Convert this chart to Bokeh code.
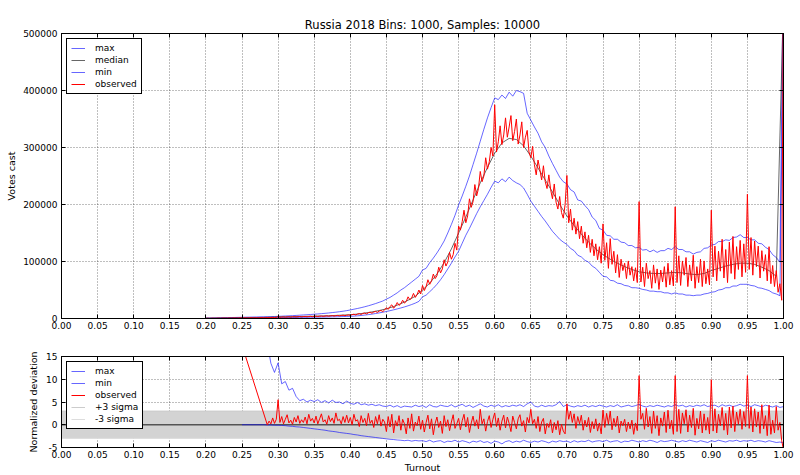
import numpy as np
from bokeh.plotting import figure
from bokeh.layouts import column
from bokeh.models import (Range1d, FixedTicker, NumeralTickFormatter, LinearAxis,
                          Legend, LegendItem, CustomLabelingPolicy, CustomJSTickFormatter)
from bokeh.embed import file_html
from bokeh.resources import INLINE

FONT = "DejaVu Sans"

# ---------------- data (top panel, votes in thousands) ----------------
# observed, one value every 0.0025 of turnout starting at 0.20
observed_k = [
    0.3, 0.5, 0.2, 0.4, 0.6, 0.3, 0.5, 0.7, 0.4, 0.6,
    0.8, 0.5, 0.7, 0.9, 0.6, 0.8, 1.0, 0.7, 0.9, 1.1,
    0.8, 1.0, 1.2, 0.9, 1.1, 1.3, 1.0, 1.2, 1.4, 1.1,
    1.3, 1.6, 1.2, 1.5, 1.8, 1.4, 1.7, 2.0, 1.6, 1.9,
    3.5, 2.1, 2.5, 2.8, 2.2, 2.7, 3.0, 2.4, 2.9, 3.2,
    2.6, 3.1, 3.4, 2.8, 3.3, 3.6, 3.0, 3.5, 3.9, 3.2,
    3.7, 4.1, 3.4, 4.0, 4.4, 3.7, 4.3, 4.7, 4.0, 4.6,
    5.0, 4.3, 4.9, 5.4, 4.6, 5.3, 5.8, 5.0, 5.7, 6.2,
    5.5, 6.8, 7.5, 6.2, 7.8, 8.5, 7.0, 8.9, 9.6, 8.0,
    10.1, 11.0, 9.2, 11.5, 12.4, 10.6, 13.0, 14.2, 12.0, 15.0,
    19, 16, 21, 24, 18, 22, 28, 23, 26, 32,
    27, 30, 38, 33, 36, 44, 37, 42, 50, 43,
    58, 49, 56, 68, 60, 66, 78, 70, 75, 90,
    80, 87, 103, 92, 99, 116, 104, 112, 132, 120,
    162, 155, 170, 190, 168, 180, 210, 195, 205, 235,
    215, 228, 258, 240, 250, 282, 262, 275, 300, 285,
    375, 292, 310, 338, 305, 322, 352, 318, 336, 356,
    312, 328, 350, 306, 322, 345, 300, 318, 330, 292,
    282, 302, 270, 252, 278, 262, 243, 268, 240, 228,
    252, 226, 210, 236, 204, 192, 214, 186, 176, 200,
    251, 168, 192, 155, 176, 148, 170, 140, 162, 132,
    152, 124, 146, 116, 139, 110, 131, 103, 126, 97,
    166, 102, 133, 88, 140, 95, 118, 80, 112, 72,
    104, 84, 97, 70, 101, 76, 91, 66, 89, 63,
    205, 64, 90, 56, 97, 70, 84, 53, 94, 62,
    87, 51, 85, 64, 91, 55, 97, 59, 84, 57,
    196, 63, 110, 58, 101, 76, 107, 56, 94, 66,
    111, 53, 91, 63, 104, 56, 101, 61, 87, 59,
    190, 73, 127, 66, 118, 83, 139, 71, 121, 63,
    134, 79, 144, 69, 126, 86, 137, 73, 131, 81,
    218, 86, 142, 76, 136, 91, 127, 71, 119, 83,
    112, 66, 126, 61, 93, 56, 84, 46, 61, 32,
    620,
]

# median, one value every 0.01 starting at 0.20
median_k = [
    0.5, 0.6, 0.8, 0.9, 1.1, 1.3, 1.5, 1.7, 1.9, 2.2,
    2.6, 2.9, 3.2, 3.5, 3.8, 4.1, 4.5, 4.9, 5.4, 6.0,
    6.5, 7.8, 9.5, 11.5, 14, 17, 21, 26, 32, 39,
    50, 62, 78, 98, 122, 150, 178, 208, 238, 265,
    290, 308, 316, 314, 303, 285, 264, 243, 222, 200,
    180, 163, 148, 134, 122, 112, 104, 97, 91, 86,
    82, 80, 79, 79, 80, 81, 80, 78, 77, 79,
    84, 88, 92, 95, 97, 97, 95, 90, 84, 74,
    560,
]

# max and min, one value every 0.005 starting at 0.20
max_k = [
    0.8, 0.9, 1.0, 1.1, 1.3, 1.4, 1.5, 1.7, 1.8, 2.0, 2.1, 2.3, 2.4, 2.6, 2.7, 2.9, 3.0, 3.2, 3.3, 3.5,
    3.8, 4.1, 4.4, 4.7, 5.0, 5.4, 5.8, 6.2, 6.6, 7.0, 7.5, 8.0, 8.5, 9.1, 9.7, 10.4, 11.1, 11.9, 12.8, 13.8,
    15, 16.3, 17.6, 19, 20.6, 22.3, 24.2, 26.2, 28.4, 30.7, 34, 37, 41, 45, 50, 54, 59, 64, 69, 74,
    85, 88, 98, 106, 115, 125, 136, 150, 165, 181, 199, 215, 232, 250, 270, 290, 311, 332, 352, 370,
    387, 384, 392, 386, 397, 390, 400, 398, 395, 360, 348, 336, 325, 310, 300, 285, 272, 260, 248, 240,
    236, 226, 222, 208, 206, 198, 191, 178, 172, 158, 155, 146, 145, 139, 139, 134, 133, 128, 128, 124,
    125, 120, 121, 117, 120, 116, 119, 119, 123, 121, 126, 121, 121, 117, 117, 113, 116, 117, 123, 124,
    129, 130, 135, 135, 138, 137, 142, 143, 147, 142, 142, 138, 138, 132, 131, 125, 121, 112, 107, 99,
    650,
]
min_k = [
    0.1, 0.1, 0.2, 0.2, 0.3, 0.3, 0.4, 0.4, 0.5, 0.5, 0.6, 0.6, 0.7, 0.7, 0.8, 0.9, 1.0, 1.0, 1.1, 1.2,
    1.3, 1.4, 1.5, 1.6, 1.7, 1.8, 1.9, 2.0, 2.1, 2.2, 2.3, 2.4, 2.5, 2.6, 2.8, 2.9, 3.0, 3.2, 3.4, 3.6,
    3.8, 4.2, 4.7, 5.3, 6.0, 6.8, 7.7, 8.7, 9.8, 11.0, 12.3, 13.7, 15.2, 16.8, 18.5, 20.3, 22.3, 24.5, 27, 30,
    38, 41, 47, 53, 60, 68, 77, 87, 97, 108, 118, 132, 146, 158, 171, 184, 196, 207, 218, 230,
    241, 238, 245, 240, 248, 242, 238, 235, 229, 218, 206, 197, 188, 179, 171, 162, 153, 146, 139, 134,
    130, 123, 119, 111, 108, 102, 99, 92, 88, 81, 74, 73, 67, 66, 62, 61, 58, 57, 54, 54,
    53, 51, 50, 48, 48, 47, 47, 45, 45, 43, 45, 43, 43, 41, 41, 40, 41, 41, 43, 44,
    46, 47, 50, 51, 54, 54, 57, 57, 60, 60, 60, 58, 57, 54, 53, 51, 49, 45, 43, 40,
    520,
]

# ---------------- data (bottom panel, normalized deviation) ----------------
# observed: first point at 0.25, then every 0.0025 from 0.285
dev_obs_first_turnout = [0.25]
dev_observed = [
    17.5,
    0.0, 0.8, 0.2, 1.5, 0.3, 1.2,
    5.5, 0.5, 1.8, 0.2, 1.2, 2.2, 0.4, 1.0, 0.1, 1.6, 0.6, 2.0, 0.3, 1.1, 0.5, 1.7, 0.2, 2.3, 0.8, 1.4,
    0.4, 1.9, 0.2, 1.3, 2.4, 0.6, 1.1, 0.1, 2.0, 0.7, 1.5, 0.3, 2.6, 0.9, 1.2, 0.2, 1.8, 0.5, 2.1, 0.4,
    1.6, 0.0, 2.3, 0.8, 1.1, -0.4, 2.0, 0.5, 1.4, -0.2, 2.5, 0.3, 1.0, -0.6, 1.8, 0.2, 2.2, -0.3, 1.2, 0.6,
    -1.5, 1.8, -0.5, 2.3, -1.8, 0.9, -0.3, 2.0, -1.2, 1.2, 0.2, -2.0, 1.5, -0.8, 2.4, -1.4, 0.6, -0.2, 1.9, -1.0,
    1.0, -1.6, 0.5, 2.1, -0.9, 1.3, -2.2, 0.3, 1.7, -0.6, 0.8, -1.9, 2.0, -0.4, 1.1, -1.3, 0.6, 2.2, -0.8, 0.2,
    1.4, -1.1, 0.9, 2.3, -0.5, 1.6, -1.7, 0.4, 1.9, -0.3, 1.1, -0.9, 3.4, 0.2, 1.3, -1.4, 0.7, 2.0, -0.6, 1.2,
    2.6, -0.4, 1.5, -1.2, 0.8, 2.1, -0.7, 1.7, 0.3, -1.5, 1.9, 0.5, -0.9, 1.3, 2.2, -0.3, 0.9, -1.6, 1.6, 0.4,
    3.4, 0.2, 1.2, -0.8, 1.8, -1.5, 0.6, 1.4, -2.0, 0.3, -0.6, 1.1, -1.8, 0.5, -1.1, 0.9, -2.2, 0.1, -1.4, -2.0,
    4.6, 1.2, 3.0, 0.5, 2.4, -0.8, 1.8, 0.2, 2.1, -1.2, 1.0, -0.5, 1.6, -1.7, 0.7, -0.9, 1.3, -1.4, 0.4, -2.0,
    3.2, -0.6, 2.5, 0.1, 3.0, -1.1, 1.4, -0.4, 1.9, -1.8, 0.8, -0.2, 1.2, -1.5, 0.6, -0.9, 1.0, -2.1, 0.4, -1.3,
    10.8, 1.2, 2.5, -1.0, 3.6, -0.5, 1.8, -1.9, 3.0, -0.8, 2.0, -2.4, 1.5, -0.3, 2.8, -1.7, 3.2, -0.9, 1.0, -2.1,
    10.8, -1.5, 3.4, -1.9, 2.6, 0.2, 3.3, -1.6, 2.1, -0.6, 3.6, -2.3, 1.4, -0.9, 3.0, -1.8, 2.4, -1.2, 1.6, -2.0,
    9.9, -1.4, 3.5, -1.8, 2.3, -0.2, 3.8, -1.2, 2.5, -2.2, 3.9, -0.7, 4.1, -1.5, 2.8, 0.1, 3.4, -1.0, 2.9, -0.4,
    10.8, -0.8, 3.9, -1.6, 3.5, -0.5, 2.8, -1.9, 4.4, -0.9, 2.0, -2.4, 4.3, -2.1, 1.0, -1.8, 4.0, -1.2, 0.5, -3.5,
    -5.5,
]
# max: every 0.005 from 0.285
dev_max = [
    18, 13.5, 11.5, 13.6, 9.0, 9.5, 7.6, 8.0, 6.2, 5.3,
    5.6, 5.0, 5.4, 5.1, 5.5, 4.9, 5.3, 4.8, 5.4, 4.9,
    5.0, 4.6, 5.2, 4.7, 4.5, 4.9, 4.4, 4.6, 4.3, 4.5,
    4.2, 4.4, 4.1, 4.0, 4.3, 3.9, 4.2, 3.8, 4.1, 4.0,
    3.9, 4.3, 4.0, 4.2, 3.8, 4.4, 4.0, 3.9, 4.3, 4.1,
    4.0, 4.4, 3.9, 4.2, 4.5, 4.0, 4.3, 3.8, 4.2, 4.6,
    4.1, 3.9, 4.3, 4.0, 4.4, 3.9, 4.2, 4.0, 4.3, 4.1,
    4.4, 4.0, 4.6, 5.0, 4.1, 3.9, 4.3, 4.0, 4.2, 4.1,
    4.4, 5.1, 4.0, 4.4, 4.1, 3.9, 4.2, 4.0, 4.3, 3.9,
    4.2, 4.0, 4.3, 4.1, 3.9, 4.2, 4.0, 4.4, 3.9, 4.1,
    4.3, 4.0, 4.2, 4.5, 4.1, 3.9, 4.2, 4.0, 4.3, 4.1,
    3.9, 4.2, 4.0, 4.4, 4.1, 4.3, 3.9, 4.2, 4.0, 4.3,
    4.1, 4.4, 4.0, 4.2, 4.3, 3.9, 4.4, 4.1, 4.3, 4.0,
    4.2, 4.5, 4.1, 4.3, 4.0, 4.4, 4.2, 3.9, 4.3, 4.1,
    3.9, 4.2, 3.8, 4.0,
]
# min: every 0.005 from 0.25
dev_min = [
    0.0, 0.0, 0.0, 0.0, 0.0, 0.0, 0.0, -0.05, -0.05, -0.1,
    -0.1, -0.15, -0.2, -0.3, -0.35, -0.45, -0.5, -0.6, -0.7, -0.8,
    -0.9, -1.0, -1.1, -1.2, -1.35, -1.45, -1.55, -1.7, -1.8, -1.9,
    -2.0, -2.15, -2.25, -2.4, -2.5, -2.6, -2.7, -2.8, -2.9, -3.0,
    -3.1, -3.2, -3.25, -3.35, -3.4, -3.5, -3.4, -3.6, -3.45, -3.55,
    -3.5, -3.7, -3.4, -3.8, -3.6, -3.5, -3.9, -3.6, -3.7, -3.4,
    -3.8, -3.5, -3.7, -4.0, -3.6, -3.8, -3.5, -3.9, -3.7, -4.1,
    -3.6, -3.8, -4.2, -3.7, -3.5, -3.9, -3.6, -3.8, -3.4, -3.7,
    -3.9, -3.6, -3.8, -3.5, -3.7, -4.0, -3.6, -3.8, -3.5, -3.7,
    -3.6, -3.9, -3.5, -3.8, -3.6, -3.7, -3.4, -3.8, -3.6, -3.5,
    -3.7, -3.4, -3.8, -3.6, -3.5, -3.9, -3.6, -3.7, -3.4, -3.6,
    -3.8, -3.5, -3.7, -3.4, -3.6, -3.9, -3.5, -3.7, -3.6, -3.4,
    -3.6, -3.8, -3.5, -3.7, -3.4, -3.6, -3.8, -3.5, -3.7, -3.9,
    -3.5, -3.7, -3.4, -3.6, -3.8, -3.5, -3.6, -3.4, -3.7, -3.5,
    -3.6, -3.4, -3.7, -3.5, -3.6, -3.8, -3.5, -3.7, -3.9, -3.8,
    -4.0,
]
sigma_turnout = [0.0, 1.0]
sigma_upper = [3.0, 3.0]
sigma_lower = [-3.0, -3.0]
median_dev = [0.0, 0.0]

x_ticks = [0.00, 0.05, 0.10, 0.15, 0.20, 0.25, 0.30, 0.35, 0.40, 0.45, 0.50,
           0.55, 0.60, 0.65, 0.70, 0.75, 0.80, 0.85, 0.90, 0.95, 1.00]
votes_ticks = [0, 100000, 200000, 300000, 400000, 500000]
dev_ticks = [-5, 0, 5, 10, 15]

TITLE = "Russia 2018 Bins: 1000, Samples: 10000"

# ---------------- derived x positions ----------------
def grid_x(start, step, n):
    return np.round(start + step * np.arange(n), 4)

t_obs = grid_x(0.20, 0.0025, len(observed_k))
t_med = grid_x(0.20, 0.01, len(median_k))
t_max = grid_x(0.20, 0.005, len(max_k))
t_min = grid_x(0.20, 0.005, len(min_k))
observed = [v * 1000 for v in observed_k]
median = [v * 1000 for v in median_k]
vmax = [v * 1000 for v in max_k]
vmin = [v * 1000 for v in min_k]

t_dev_obs = np.concatenate([dev_obs_first_turnout, grid_x(0.285, 0.0025, len(dev_observed) - 1)])
t_dev_max = grid_x(0.285, 0.005, len(dev_max))
t_dev_min = grid_x(0.25, 0.005, len(dev_min))

BLUE = "blue"
BLUE_A = 0.6
W = 800
H1 = 345
H2 = 130


def mirror_axis(ticks):
    return LinearAxis(ticker=FixedTicker(ticks=ticks),
                      formatter=CustomJSTickFormatter(code="return ''"),
                      major_label_policy=CustomLabelingPolicy(
                          code="for (const i of indices) { indices.unset(i) }\nreturn indices"),
                      major_label_text_font_size="1px",
                      major_tick_in=4, major_tick_out=0, minor_tick_in=0, minor_tick_out=0,
                      major_label_standoff=0, axis_line_color="black")


def style_axes(p, yticks, yfmt):
    p.outline_line_color = "black"
    p.outline_line_width = 1
    p.outline_line_alpha = 1
    p.background_fill_color = "white"
    p.border_fill_color = "white"
    for g in (p.xgrid, p.ygrid):
        g.grid_line_color = "black"
        g.grid_line_alpha = 0.5
        g.grid_line_dash = "1 2"
        g.grid_line_width = 1
    xax = p.below[0]
    yax = p.left[0]
    xax.ticker = FixedTicker(ticks=x_ticks)
    yax.ticker = FixedTicker(ticks=yticks)
    xax.formatter = NumeralTickFormatter(format="0.00")
    yax.formatter = NumeralTickFormatter(format=yfmt)
    for ax in (xax, yax):
        ax.major_tick_in = 4
        ax.major_tick_out = 0
        ax.minor_tick_in = 0
        ax.minor_tick_out = 0
        ax.axis_line_color = "black"
        ax.major_tick_line_color = "black"
        ax.major_label_text_font = FONT
        ax.major_label_text_font_size = "9px"
        ax.major_label_text_color = "black"
        ax.axis_label_text_font = FONT
        ax.axis_label_text_font_size = "9.5px"
        ax.axis_label_text_font_style = "normal"
        ax.axis_label_text_color = "black"
    xax.major_label_standoff = 3
    yax.major_label_standoff = 4
    # mirrored ticks (top / right), no labels
    p.add_layout(mirror_axis(x_ticks), "above")
    p.add_layout(mirror_axis(yticks), "right")
    return xax, yax


def style_legend(leg):
    leg.location = "top_left"
    leg.border_line_color = "black"
    leg.border_line_width = 1
    leg.border_line_alpha = 1
    leg.background_fill_color = "white"
    leg.background_fill_alpha = 1
    leg.label_text_font = FONT
    leg.label_text_font_size = "9px"
    leg.label_text_color = "black"
    leg.glyph_width = 14
    leg.glyph_height = 10
    leg.label_height = 10
    leg.label_standoff = 10
    leg.spacing = 2
    leg.padding = 4
    leg.margin = 5


# ---------------- top panel ----------------
x_range = Range1d(0, 1)
p1 = figure(width=W, height=H1, output_backend="svg", toolbar_location=None,
            x_range=x_range, y_range=Range1d(0, 500000),
            min_border_left=61, min_border_right=17, min_border_top=33, min_border_bottom=27)
p1.title.text = TITLE
p1.title.align = "center"
p1.title.text_font = FONT
p1.title.text_font_size = "11.5px"
p1.title.text_font_style = "normal"
p1.title.text_color = "black"
p1.title.standoff = 3

r_max = p1.line(t_max, vmax, line_color=BLUE, line_alpha=BLUE_A, line_width=1)
r_med = p1.line(t_med, median, line_color="black", line_alpha=0.6, line_width=1)
r_min = p1.line(t_min, vmin, line_color=BLUE, line_alpha=BLUE_A, line_width=1)
r_obs = p1.line(t_obs, observed, line_color="red", line_alpha=1, line_width=1)
x1, y1 = style_axes(p1, votes_ticks, "0")
y1.axis_label = "Votes cast"
y1.axis_label_standoff = 3
leg1 = Legend(items=[LegendItem(label="max", renderers=[r_max]),
                     LegendItem(label="median", renderers=[r_med]),
                     LegendItem(label="min", renderers=[r_min]),
                     LegendItem(label="observed", renderers=[r_obs])])
style_legend(leg1)
p1.add_layout(leg1)

# ---------------- bottom panel ----------------
p2 = figure(width=W, height=H2, output_backend="svg", toolbar_location=None,
            x_range=x_range, y_range=Range1d(-5, 15),
            min_border_left=61, min_border_right=17, min_border_top=11, min_border_bottom=24)
p2.varea(x=sigma_turnout, y1=sigma_lower, y2=sigma_upper, fill_color="#d3d3d3", fill_alpha=1)
r_up = p2.line(sigma_turnout, sigma_upper, line_color="#cccccc", line_width=1)
r_lo = p2.line(sigma_turnout, sigma_lower, line_color="#dddddd", line_width=1)
p2.line(sigma_turnout, median_dev, line_color="black", line_alpha=0.6, line_width=1.5)
r2_max = p2.line(t_dev_max, dev_max, line_color=BLUE, line_alpha=BLUE_A, line_width=1)
r2_min = p2.line(t_dev_min, dev_min, line_color=BLUE, line_alpha=BLUE_A, line_width=1)
r2_obs = p2.line(t_dev_obs, dev_observed, line_color="red", line_width=1)
x2, y2 = style_axes(p2, dev_ticks, "0")
y2.axis_label = "Normalized deviation"
y2.axis_label_standoff = 4
x2.axis_label = "Turnout"
x2.axis_label_standoff = 1
leg2 = Legend(items=[LegendItem(label="max", renderers=[r2_max]),
                     LegendItem(label="min", renderers=[r2_min]),
                     LegendItem(label="observed", renderers=[r2_obs]),
                     LegendItem(label="+3 sigma", renderers=[r_up]),
                     LegendItem(label="-3 sigma", renderers=[r_lo])])
style_legend(leg2)
p2.add_layout(leg2)

layout = column(p1, p2, spacing=0)
open("out.html", "w").write(file_html(layout, INLINE))
